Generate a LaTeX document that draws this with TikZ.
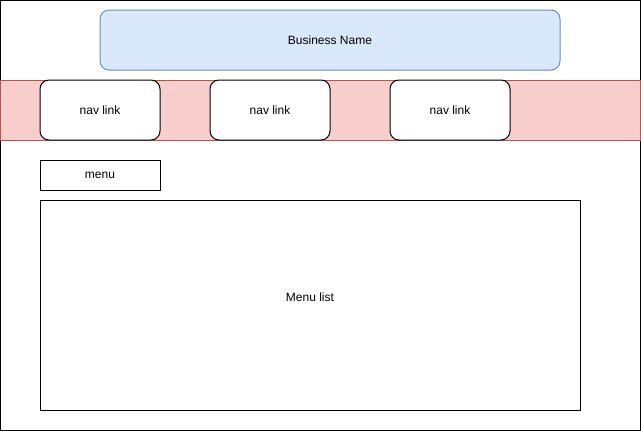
\documentclass[tikz,border=0pt]{standalone}
\usepackage{fontspec}
\setmainfont{Liberation Sans}
\definecolor{headfill}{HTML}{DAE8FC}
\definecolor{headline}{HTML}{6C8EBF}
\definecolor{navfill}{HTML}{F8CECC}
\definecolor{navline}{HTML}{B85450}
\begin{document}
\begin{tikzpicture}[x=1pt,y=-1pt,line width=1pt,font=\fontsize{12}{14}\selectfont,
  box/.style={draw, inner sep=0pt},
  navlink/.style={box, fill=white, rounded corners=9pt, minimum width=120pt, minimum height=60pt}]
\useasboundingbox (0,0) rectangle (641,431);
\draw (0.5,0.5) rectangle (640.5,430.5);

\node[box, fill=headfill, draw=headline, rounded corners=9pt, minimum width=460pt, minimum height=60pt] (title) at (330,40) {Business Name};
\node[box, fill=navfill, draw=navline, minimum width=640pt, minimum height=60pt] (navbar) at (320.5,110) {};

\node[navlink] (nav1) at (100,110) {nav link};
\node[navlink] (nav2) at (270,110) {nav link};
\node[navlink] (nav3) at (450,110) {nav link};

\node[box, minimum width=120pt, minimum height=30pt] (menu) at (100,175.5) {menu};
\node[box, minimum width=540pt, minimum height=210pt] (menulist) at (310,305) {};
\node (menulisttext) at (310,297) {Menu list};
\end{tikzpicture}
\end{document}
